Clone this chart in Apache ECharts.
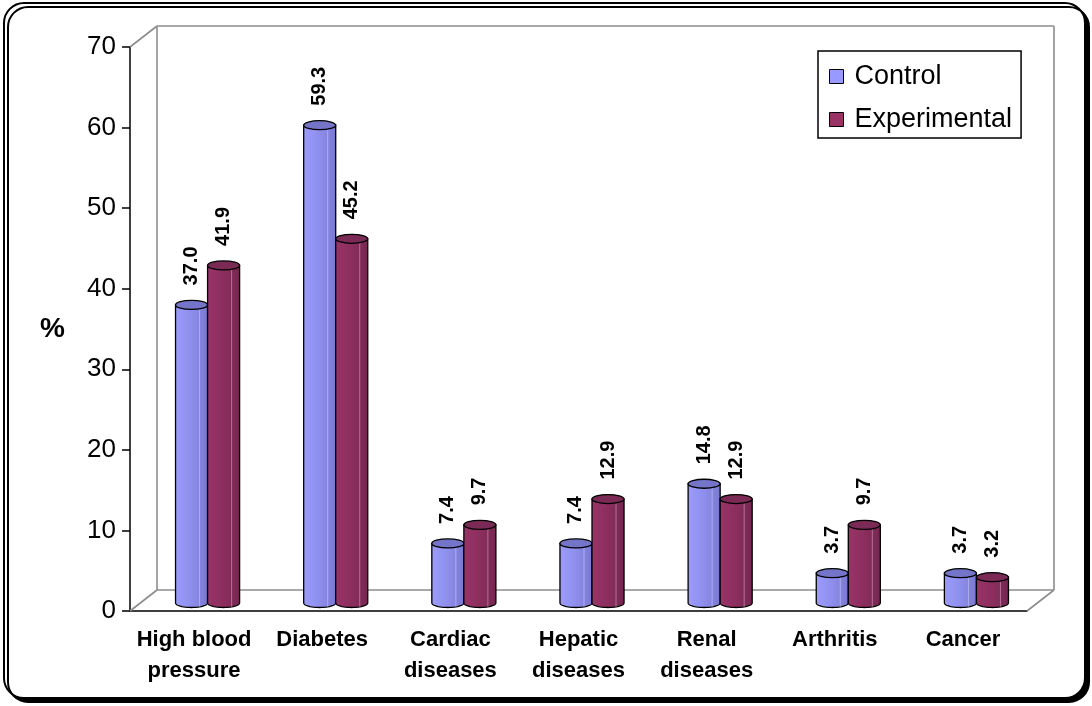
<!DOCTYPE html>
<html>
<head>
<meta charset="utf-8">
<script src="https://cdn.jsdelivr.net/npm/echarts@6/dist/echarts.min.js"></script>
<style>
  html, body { margin: 0; padding: 0; background: #fff; }
  #chart { width: 1092px; height: 706px; }
</style>
</head>
<body>
<div id="chart"></div>
<script>
// Disease prevalence (%) by group
const categories = ['High blood\npressure', 'Diabetes', 'Cardiac\ndiseases', 'Hepatic\ndiseases', 'Renal\ndiseases', 'Arthritis', 'Cancer'];
const controlValues = [37.0, 59.3, 7.4, 7.4, 14.8, 3.7, 3.7];
const experimentalValues = [41.9, 45.2, 9.7, 12.9, 12.9, 9.7, 3.2];
const seriesNames = ['Control', 'Experimental'];
const yMin = 0, yMax = 70, yStep = 10;

const FONT = 'Arial, "Liberation Sans", sans-serif';
const DEPTH_X = 27, DEPTH_Y = -21;      // offset of the back wall
const BAR_SHIFT_Y = -8;                 // bars stand mid-depth on the floor

const palettes = {
  Control: {
    body: ['#9c9cfc', '#9191f0', '#8686e2', '#7878d2'],
    top: '#7474c8',
    legend: '#9999ff'
  },
  Experimental: {
    body: ['#9a3468', '#8e2f60', '#842c59', '#742650'],
    top: '#7a2a55',
    legend: '#993366'
  }
};

// One cylindrical bar: body, bottom rim, top cap, value label
function cylinder(cx, yTop, yBase, r, ry, pal, label) {
  const pts = [[cx - r, yTop], [cx - r, yBase]];
  const n = 24;
  for (let i = 0; i <= n; i++) {
    const t = Math.PI - Math.PI * i / n;
    pts.push([cx + r * Math.cos(t), yBase + ry * Math.sin(t)]);
  }
  pts.push([cx + r, yTop]);
  const b = pal.body;
  return {
    type: 'group',
    children: [
      {
        type: 'polygon',
        shape: { points: pts },
        style: {
          fill: {
            type: 'linear', x: 0, y: 0, x2: 1, y2: 0,
            colorStops: [
              { offset: 0, color: b[0] },
              { offset: 0.4, color: b[1] },
              { offset: 0.7, color: b[2] },
              { offset: 1, color: b[3] }
            ]
          },
          stroke: '#000',
          lineWidth: 1.3
        }
      },
      {
        type: 'line',
        shape: { x1: cx + r * 0.5, y1: yTop + ry, x2: cx + r * 0.5, y2: yBase + ry * 0.85 },
        style: { stroke: 'rgba(255,255,255,0.35)', lineWidth: 1 }
      },
      {
        type: 'ellipse',
        shape: { cx: cx, cy: yTop, rx: r, ry: ry },
        style: { fill: pal.top, stroke: '#000', lineWidth: 1.3 }
      },
      {
        type: 'text',
        x: cx,
        y: yTop - ry - 15,
        rotation: Math.PI / 2,
        style: {
          text: label,
          x: 0, y: 0,
          fill: '#000',
          font: 'bold 20px ' + FONT,
          align: 'left',
          verticalAlign: 'middle'
        }
      }
    ]
  };
}

function barRenderer(seriesIndex) {
  const name = seriesNames[seriesIndex];
  return function (params, api) {
    const idx = api.value(0);
    const val = api.value(1);
    const band = api.size([1, 0])[0];
    const base = api.coord([idx, 0]);
    const top = api.coord([idx, val]);
    const r = band * 0.125;
    const cx = base[0] + DEPTH_X / 2 + (seriesIndex === 0 ? -r : r);
    return cylinder(cx, top[1] + BAR_SHIFT_Y, base[1] + BAR_SHIFT_Y, r, 4.5,
      palettes[name], val.toFixed(1));
  };
}

// Back wall, floor edge and side edges of the 3-D box
function frameRenderer(params, api) {
  const cs = params.coordSys;
  const x0 = cs.x, y0 = cs.y, x1 = cs.x + cs.width, y1 = cs.y + cs.height;
  const bx0 = x0 + DEPTH_X, bx1 = x1 + DEPTH_X, by0 = y0 + DEPTH_Y, by1 = y1 + DEPTH_Y;
  const segs = [
    [x0, y1, bx0, by1],
    [x0, y0, bx0, by0],
    [bx0, by0, bx0, by1],
    [bx0, by0, bx1, by0],
    [bx1, by0, bx1, by1],
    [bx0, by1, bx1, by1],
    [x1, y1, bx1, by1]
  ];
  return {
    type: 'group',
    children: segs.map(s => ({
      type: 'line',
      shape: { x1: s[0], y1: s[1], x2: s[2], y2: s[3] },
      style: { stroke: '#8c8c8c', lineWidth: 1.6 }
    }))
  };
}

const chart = echarts.init(document.getElementById('chart'), null, { renderer: 'canvas' });

chart.setOption({
  backgroundColor: '#fff',
  animation: false,
  graphic: [
    {
      type: 'rect',
      z: -10,
      shape: { x: 4, y: 3, width: 1081, height: 695, r: 20 },
      style: {
        fill: '#fff', stroke: '#000', lineWidth: 2,
        shadowColor: '#000', shadowOffsetX: 4, shadowOffsetY: 4, shadowBlur: 0
      }
    }
  ],
  grid: { left: 130, right: 65, top: 47, bottom: 95, containLabel: false },
  legend: {
    orient: 'vertical',
    left: 818,
    top: 51,
    padding: [12, 9, 5, 11],
    itemGap: 16,
    itemWidth: 14,
    itemHeight: 14,
    icon: 'rect',
    borderColor: '#000',
    borderWidth: 1.5,
    backgroundColor: '#fff',
    data: seriesNames.map(n => ({
      name: n,
      itemStyle: { color: palettes[n].legend, borderColor: '#000', borderWidth: 1 }
    })),
    textStyle: { fontFamily: FONT, fontSize: 27, color: '#000', padding: [0, 0, 0, 6] }
  },
  xAxis: {
    type: 'category',
    data: categories,
    axisLine: { lineStyle: { color: '#000', width: 1.5 } },
    axisTick: { length: 8, lineStyle: { color: '#000', width: 1.5 } },
    axisLabel: {
      interval: 0,
      margin: 13,
      color: '#000',
      fontFamily: FONT,
      fontWeight: 'bold',
      fontSize: 22,
      lineHeight: 31
    },
    splitLine: { show: false }
  },
  yAxis: {
    type: 'value',
    min: yMin,
    max: yMax,
    interval: yStep,
    name: '%',
    nameLocation: 'middle',
    nameRotate: 0,
    nameGap: 65,
    nameTextStyle: { fontFamily: FONT, fontWeight: 'bold', fontSize: 28, color: '#000' },
    axisLine: { show: true, lineStyle: { color: '#000', width: 1.5 } },
    axisTick: { show: true, length: 8, lineStyle: { color: '#000', width: 1.5 } },
    axisLabel: { margin: 14, color: '#000', fontFamily: FONT, fontSize: 26 },
    splitLine: { show: false }
  },
  series: [
    {
      type: 'custom',
      name: 'frame',
      silent: true,
      z: 1,
      renderItem: frameRenderer,
      data: [[0, 0]]
    },
    {
      type: 'custom',
      name: seriesNames[0],
      z: 3,
      itemStyle: { color: palettes.Control.legend },
      renderItem: barRenderer(0),
      encode: { x: 0, y: 1 },
      data: controlValues.map((v, i) => [i, v])
    },
    {
      type: 'custom',
      name: seriesNames[1],
      z: 4,
      itemStyle: { color: palettes.Experimental.legend },
      renderItem: barRenderer(1),
      encode: { x: 0, y: 1 },
      data: experimentalValues.map((v, i) => [i, v])
    }
  ]
});
</script>
</body>
</html>
